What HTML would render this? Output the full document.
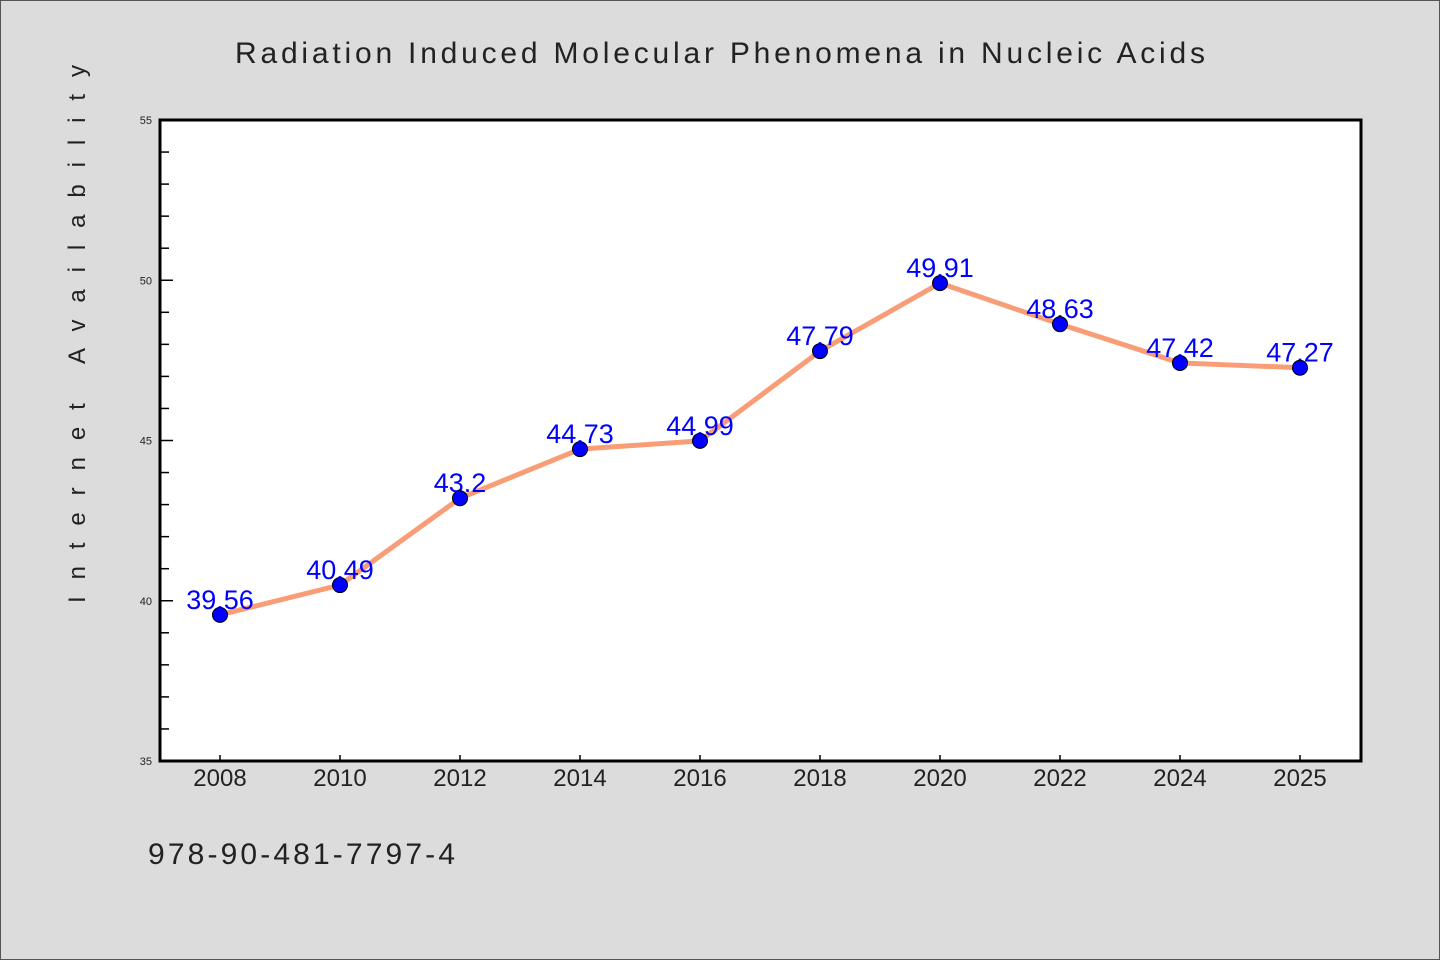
<!DOCTYPE html>
<html><head><meta charset="utf-8"><style>
html,body{margin:0;padding:0;background:#dcdcdc;}
svg{display:block;font-family:"WenQuanYi Zen Hei","Liberation Sans",sans-serif;}
</style></head><body>
<svg id="chart" width="1440" height="960" viewBox="0 0 1440 960">
<rect x="0.5" y="0.5" width="1439" height="959" fill="#dcdcdc" stroke="#555"/>
<text x="235" y="63" font-size="30" fill="#222" textLength="970" lengthAdjust="spacing">Radiation Induced Molecular Phenomena in Nucleic Acids</text>
<rect x="160" y="120" width="1201" height="641" fill="#fff"/>
<g id="ticks"></g>
<g id="series"></g>
<rect x="160" y="120" width="1201" height="641" fill="none" stroke="#000" stroke-width="3"/>
<text transform="translate(85,603) rotate(-90)" font-size="24" fill="#222" textLength="538" lengthAdjust="spacing">Internet Availability</text>
<text x="148" y="864" font-size="30" fill="#222" textLength="307" lengthAdjust="spacing">978-90-481-7797-4</text>
</svg>
<script>
const categories=["2008","2010","2012","2014","2016","2018","2020","2022","2024","2025"];
const values=[39.56,40.49,43.2,44.73,44.99,47.79,49.91,48.63,47.42,47.27];
const valueLabels=["39.56","40.49","43.2","44.73","44.99","47.79","49.91","48.63","47.42","47.27"];
const yTicks=[35,40,45,50,55];
const NS="http://www.w3.org/2000/svg";
const yMin=35,yMax=55,plotTop=120,plotBot=761,plotLeft=160;
function yPos(v){return plotBot-(v-yMin)/(yMax-yMin)*(plotBot-plotTop);}
function xPos(i){return 220+i*120;}
function mk(t,a,p){const e=document.createElementNS(NS,t);for(const k in a)e.setAttribute(k,a[k]);p.appendChild(e);return e;}
const tg=document.getElementById('ticks'),sg=document.getElementById('series');
for(let v=yMin;v<=yMax;v++){
  const major=yTicks.includes(v);
  const l=mk('line',{x1:plotLeft,x2:plotLeft+(major?13:9),y1:yPos(v),y2:yPos(v),stroke:'#000','stroke-width':1.5},tg);
  
  
  if(major){
    const t=mk('text',{x:plotLeft-8,y:yPos(v)+4,'text-anchor':'end','font-size':11,fill:'#222'},tg);
    t.textContent=v;
    
    
  }
}
categories.forEach((c,i)=>{
  const l=mk('line',{x1:xPos(i),x2:xPos(i),y1:plotBot,y2:plotBot-6,stroke:'#000','stroke-width':1.5},tg);
  
  
  const t=mk('text',{x:xPos(i),y:plotBot+25,'text-anchor':'middle','font-size':24,fill:'#222'},tg);
  t.textContent=c;
  
  
});
const pl=mk('polyline',{points:values.map((v,i)=>xPos(i)+','+yPos(v)).join(' '),fill:'none',stroke:'#f99d77','stroke-width':5,'stroke-linejoin':'round'},sg);


values.forEach((v,i)=>{
  const t=mk('text',{x:xPos(i),y:yPos(v)-6,'text-anchor':'middle','font-size':27,fill:'#0000ff'},sg);
  t.textContent=valueLabels[i];
  
  
});
values.forEach((v,i)=>{
  const c=mk('circle',{cx:xPos(i),cy:yPos(v),r:7.5,fill:'#0000ff',stroke:'#000','stroke-width':1},sg);
  
  
});
</script>
</body></html>
